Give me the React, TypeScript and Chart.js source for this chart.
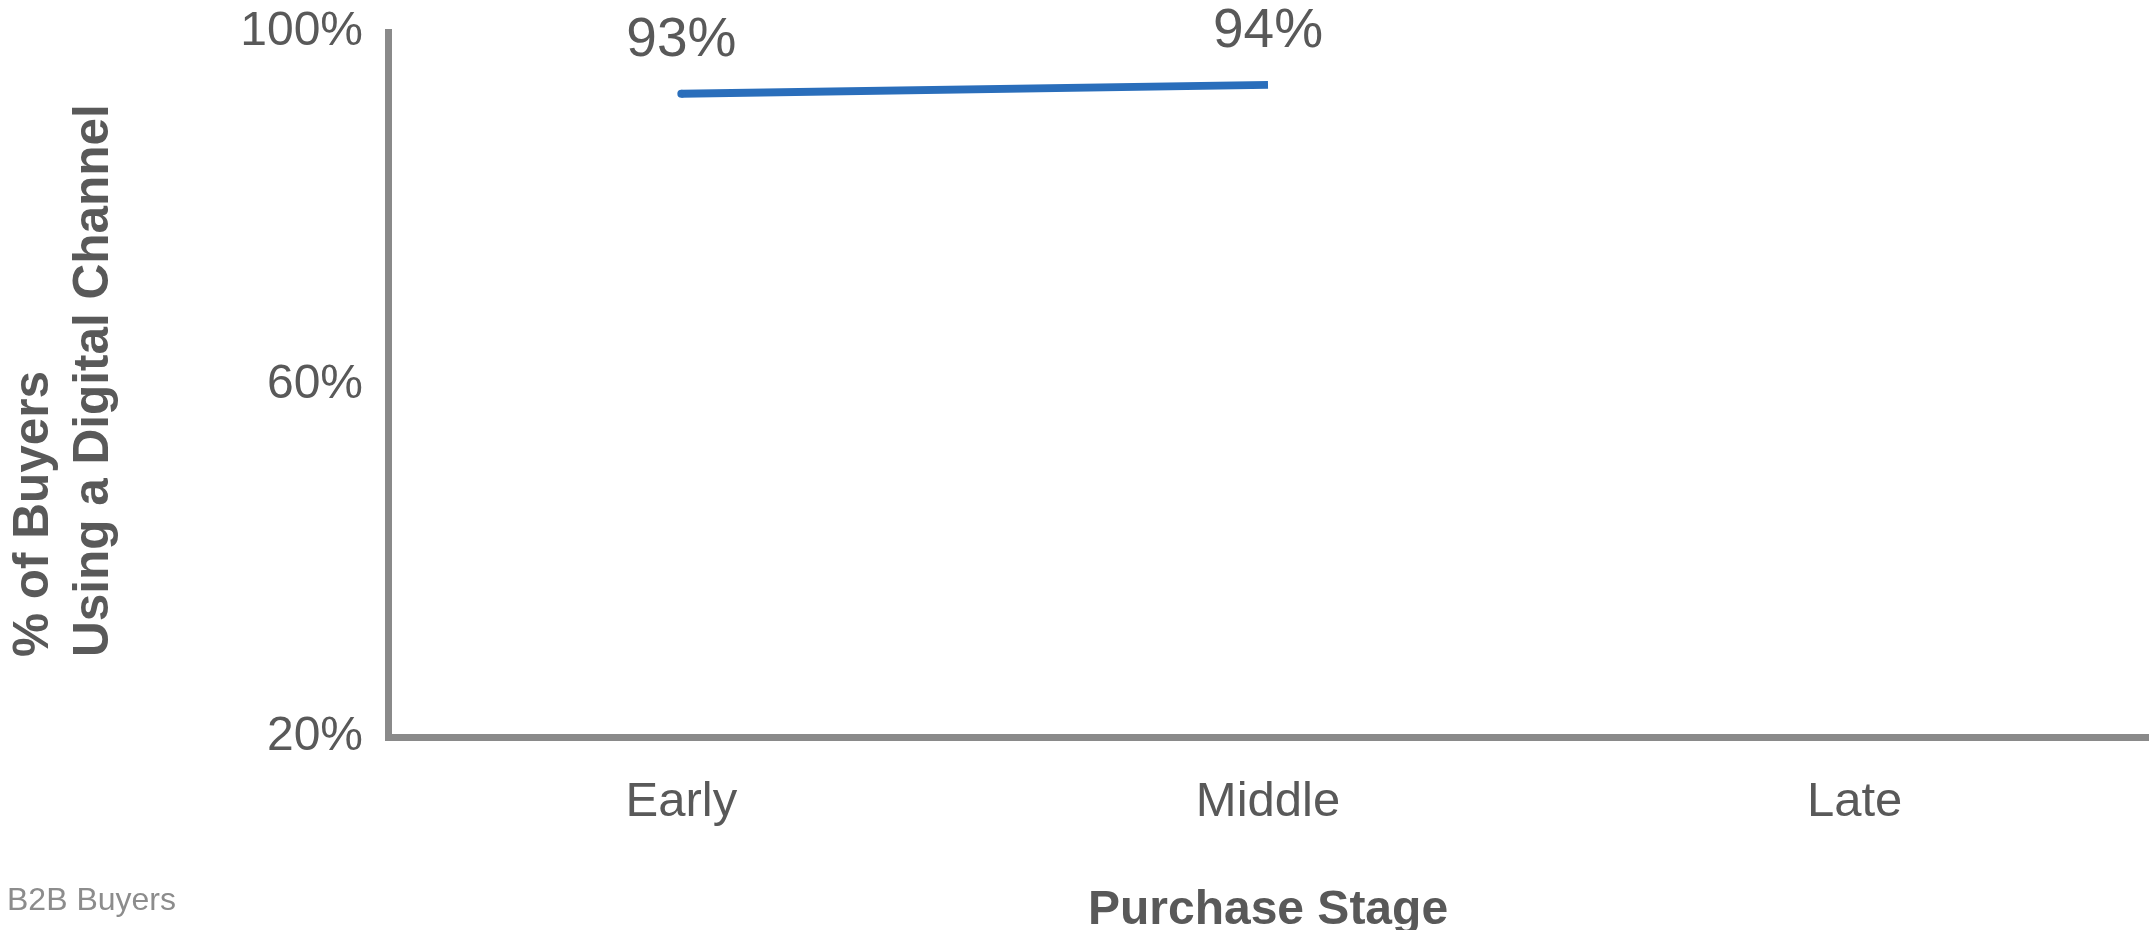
import React, { useEffect, useRef } from "react";
import { Chart, registerables } from "chart.js";

Chart.register(...registerables);

const categories = ["Early", "Middle", "Late"];
const digitalShare: (number | null)[] = [93, 94, null];
const yTickValues = [20, 60, 100];
const yTitleLines = ["% of Buyers", "Using a Digital Channel"];
const xTitle = "Purchase Stage";
const footnote = "B2B Buyers";

const FONT = "'Liberation Sans', Arial, sans-serif";
const TEXT = "#595959";
const AXIS = "#8a8a8a";
const LINE = "#2a6ebb";

const overlayPlugin = {
  id: "overlay",
  afterDatasetsDraw(chart: any) {
    const ctx = chart.ctx;
    const meta = chart.getDatasetMeta(0);
    ctx.save();
    ctx.fillStyle = TEXT;
    ctx.font = `55px ${FONT}`;
    ctx.textAlign = "center";
    ctx.textBaseline = "alphabetic";
    meta.data.forEach((pt: any, i: number) => {
      const v = digitalShare[i];
      if (v == null) return;
      ctx.fillText(`${v}%`, pt.x, pt.y - 38);
    });
    ctx.restore();

    // y-axis title (two left-aligned rotated lines)
    ctx.save();
    ctx.fillStyle = TEXT;
    ctx.font = `bold 49.5px ${FONT}`;
    ctx.textAlign = "left";
    ctx.textBaseline = "alphabetic";
    const baseXs = [48, 108];
    yTitleLines.forEach((line, i) => {
      ctx.save();
      ctx.translate(baseXs[i], 657);
      ctx.rotate(-Math.PI / 2);
      ctx.fillText(line, 0, 0);
      ctx.restore();
    });
    ctx.restore();

    // footnote
    ctx.save();
    ctx.fillStyle = "#8c8c8c";
    ctx.font = `32px ${FONT}`;
    ctx.textAlign = "left";
    ctx.textBaseline = "alphabetic";
    ctx.fillText(footnote, 7, 910);
    ctx.restore();
  },
};

export default function App() {
  const ref = useRef<HTMLCanvasElement | null>(null);
  useEffect(() => {
    if (!ref.current) return;
    const chart = new Chart(ref.current, {
      type: "line",
      data: {
        labels: categories,
        datasets: [
          {
            data: digitalShare,
            borderColor: LINE,
            backgroundColor: LINE,
            borderWidth: 8,
            borderCapStyle: "butt",
            pointRadius: [4, 0, 0],
            pointHoverRadius: 0,
            pointBorderWidth: 0,
            tension: 0,
            spanGaps: false,
          } as any,
        ],
      },
      options: {
        responsive: false,
        animation: false,
        layout: { padding: { top: 32, right: 0, left: 0, bottom: 0 } },
        plugins: {
          legend: { display: false },
          tooltip: { enabled: false },
          title: { display: false },
        },
        scales: {
          x: {
            type: "category",
            offset: true,
            grid: { display: false, drawTicks: false },
            border: { display: true, color: AXIS, width: 7 },
            ticks: {
              color: TEXT,
              font: { family: FONT, size: 49 },
              padding: 36,
            },
            title: {
              display: true,
              text: xTitle,
              color: TEXT,
              font: { family: FONT, size: 48, weight: "bold", lineHeight: 0.8 },
              padding: { top: 0, bottom: 0 },
            },
            afterFit(scale: any) {
              scale.height = 193;
              scale.paddingLeft = 0;
              scale.paddingRight = 0;
            },
          },
          y: {
            min: 20,
            max: 100,
            grid: { display: false, drawTicks: false },
            border: { display: true, color: AXIS, width: 7 },
            afterBuildTicks(scale: any) {
              scale.ticks = yTickValues.map((v) => ({ value: v }));
            },
            ticks: {
              color: TEXT,
              font: { family: FONT, size: 48 },
              padding: 25,
              callback: (v: any) => `${v}%`,
            },
            afterFit(scale: any) {
              scale.width = 388;
              scale.paddingTop = 0;
              scale.paddingBottom = 0;
            },
          },
        },
      },
      plugins: [overlayPlugin],
    });
    return () => chart.destroy();
  }, []);
  return (
    <div style={{ position: "absolute", left: 0, top: 0, width: 2152, height: 930, background: "#fff" }}>
      <canvas ref={ref} width={2152} height={930} style={{ width: 2152, height: 930, display: "block" }} />
    </div>
  );
}
